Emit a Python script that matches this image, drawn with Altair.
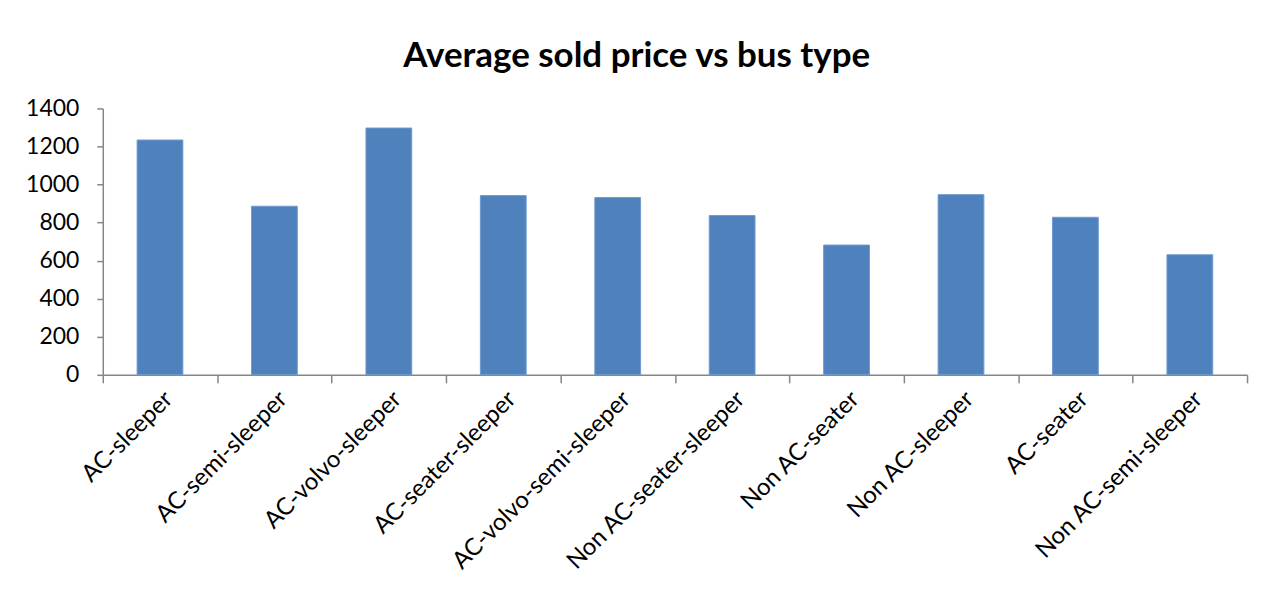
import altair as alt
import pandas as pd

bus_types = [
    "AC-sleeper", "AC-semi-sleeper", "AC-volvo-sleeper", "AC-seater-sleeper",
    "AC-volvo-semi-sleeper", "Non AC-seater-sleeper", "Non AC-seater",
    "Non AC-sleeper", "AC-seater", "Non AC-semi-sleeper",
]
avg_price = [1234, 886, 1297, 942, 932, 837, 682, 947, 828, 631]
y_ticks = [0, 200, 400, 600, 800, 1000, 1200, 1400]

df = pd.DataFrame({"bus_type": bus_types, "price": avg_price})

FONT = "Lato"

chart = (
    alt.Chart(df)
    .mark_bar(color="#4F81BD", stroke="#6F9BD0", strokeWidth=1, width=alt.RelativeBandSize(0.4))
    .encode(
        x=alt.X(
            "bus_type:N",
            sort=bus_types,
            title=None,
            scale=alt.Scale(paddingInner=0, paddingOuter=0),
            axis=alt.Axis(
                labelAngle=-45,
                labelFontSize=24,
                labelFont=FONT,
                labelColor="#000000",
                labelLimit=0,
                tickBand="extent",
                tickSize=8,
                tickColor="#868686",
                domainColor="#868686",
                domainWidth=1.5,
                tickWidth=1.5,
                labelPadding=4,
                grid=False,
            ),
        ),
        y=alt.Y(
            "price:Q",
            title=None,
            scale=alt.Scale(domain=[0, 1400], nice=False),
            axis=alt.Axis(
                values=y_ticks,
                format="d",
                labelFontSize=23,
                labelFont=FONT,
                labelColor="#000000",
                tickSize=6,
                tickColor="#868686",
                domainColor="#868686",
                domainWidth=1.5,
                tickWidth=1.5,
                labelPadding=18,
                grid=False,
            ),
        ),
    )
    .properties(
        width=1147,
        height=267,
        background="#ffffff",
        title=alt.TitleParams(
            "Average sold price vs bus type",
            font=FONT,
            fontSize=35,
            fontWeight="bold",
            color="#000000",
            anchor="middle",
            frame="bounds",
            offset=24,
        ),
        padding={"left": 17, "top": 30, "right": 20, "bottom": 10},
    )
    .configure_view(stroke="transparent", strokeWidth=0)
)

chart.save("out.html", embed_options={"renderer": "svg", "actions": False})
